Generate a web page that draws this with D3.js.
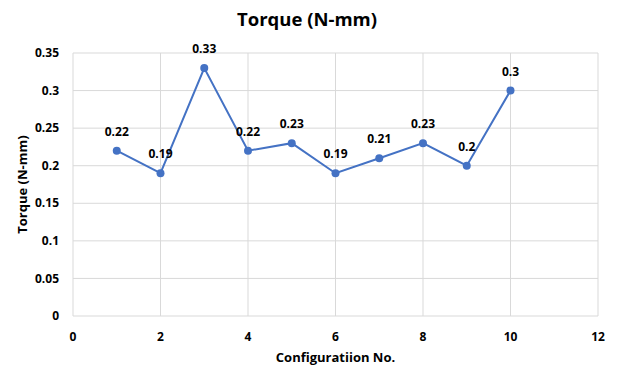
<!DOCTYPE html>
<html>
<head>
<meta charset="utf-8">
<script src="https://cdn.jsdelivr.net/npm/d3@7"></script>
<style>
  body { margin: 0; background: #fff; }
  text { font-family: "Open Sans", "Noto Sans", sans-serif; font-weight: bold; fill: #000; }
</style>
</head>
<body>
<div id="chart"></div>
<script>
const configs = [1, 2, 3, 4, 5, 6, 7, 8, 9, 10];
const torque = [0.22, 0.19, 0.33, 0.22, 0.23, 0.19, 0.21, 0.23, 0.2, 0.3];
const xTicks = [0, 2, 4, 6, 8, 10, 12];
const yTicks = [0, 0.05, 0.1, 0.15, 0.2, 0.25, 0.3, 0.35];

const width = 618, height = 367;
const margin = { top: 53, right: 20, bottom: 51, left: 73 };

const svg = d3.select("#chart").append("svg")
    .attr("width", width)
    .attr("height", height);

const x = d3.scaleLinear().domain([0, 12]).range([margin.left, width - margin.right]);
const y = d3.scaleLinear().domain([0, 0.35]).range([height - margin.bottom, margin.top]);

// gridlines
svg.append("g").selectAll("line.h")
    .data(yTicks).enter().append("line")
    .attr("x1", x(0)).attr("x2", x(12))
    .attr("y1", d => y(d)).attr("y2", d => y(d))
    .attr("stroke", "#d9d9d9").attr("stroke-width", 1);

svg.append("g").selectAll("line.v")
    .data(xTicks).enter().append("line")
    .attr("x1", d => x(d)).attr("x2", d => x(d))
    .attr("y1", y(0)).attr("y2", y(0.35))
    .attr("stroke", "#d9d9d9").attr("stroke-width", 1);

// tick labels
svg.append("g").selectAll("text")
    .data(yTicks).enter().append("text")
    .attr("x", x(0) - 14)
    .attr("y", d => y(d))
    .attr("dy", "0.35em")
    .attr("text-anchor", "end")
    .style("font-size", "12px")
    .text(d => d);

svg.append("g").selectAll("text")
    .data(xTicks).enter().append("text")
    .attr("x", d => x(d))
    .attr("y", y(0) + 21)
    .attr("dy", "0.35em")
    .attr("text-anchor", "middle")
    .style("font-size", "12px")
    .text(d => d);

// line
const line = d3.line()
    .x((d, i) => x(configs[i]))
    .y(d => y(d));

svg.append("path")
    .datum(torque)
    .attr("fill", "none")
    .attr("stroke", "#4472c4")
    .attr("stroke-width", 2)
    .attr("d", line);

svg.append("g").selectAll("circle")
    .data(torque).enter().append("circle")
    .attr("cx", (d, i) => x(configs[i]))
    .attr("cy", d => y(d))
    .attr("r", 4)
    .attr("fill", "#4472c4");

// data labels
svg.append("g").selectAll("text")
    .data(torque).enter().append("text")
    .attr("x", (d, i) => x(configs[i]))
    .attr("y", d => y(d) - 19)
    .attr("dy", "0.35em")
    .attr("text-anchor", "middle")
    .style("font-size", "12px")
    .text(d => d);

// titles
svg.append("text")
    .attr("x", 307).attr("y", 20)
    .attr("dy", "0.35em")
    .attr("text-anchor", "middle")
    .style("font-size", "18.5px")
    .text("Torque (N-mm)");

svg.append("text")
    .attr("transform", `translate(22,${(y(0) + y(0.35)) / 2}) rotate(-90)`)
    .attr("dy", "0.35em")
    .attr("text-anchor", "middle")
    .style("font-size", "13px")
    .text("Torque (N-mm)");

svg.append("text")
    .attr("x", (x(0) + x(12)) / 2).attr("y", 357)
    .attr("dy", "0.35em")
    .attr("text-anchor", "middle")
    .style("font-size", "13px")
    .text("Configuratiion No.");
</script>
</body>
</html>
